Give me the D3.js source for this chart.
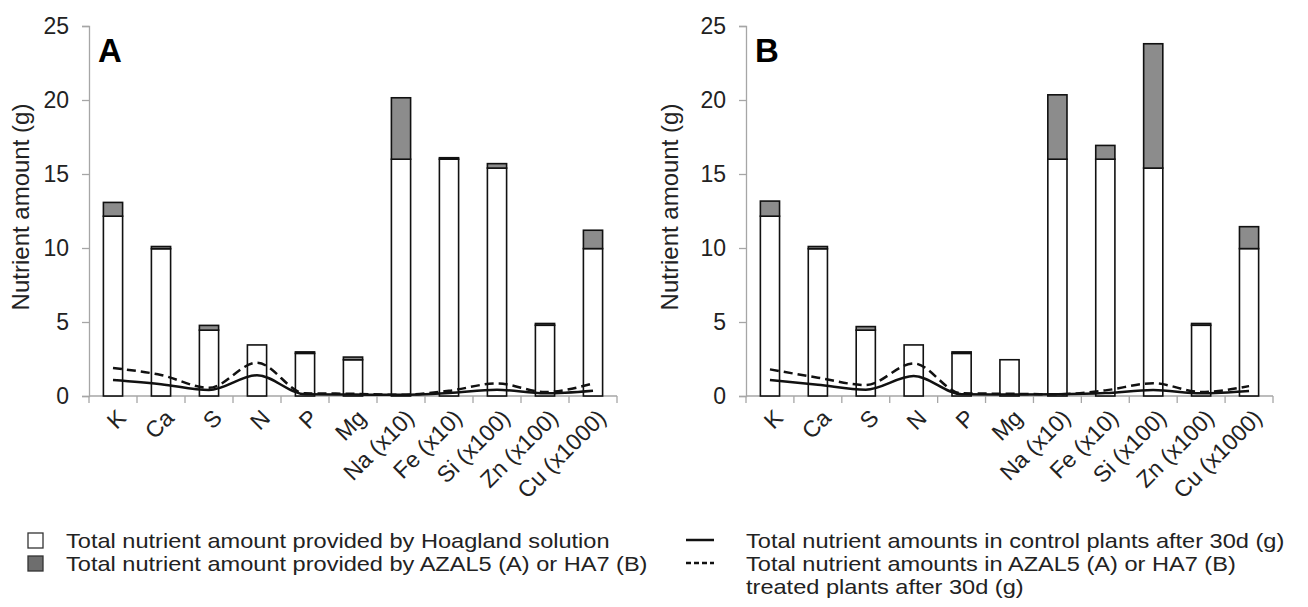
<!DOCTYPE html>
<html>
<head>
<meta charset="utf-8">
<script src="https://cdn.jsdelivr.net/npm/d3@7"></script>
<style>
  body { margin: 0; background: #fff; }
  svg text { font-family: "Liberation Sans", Arial, sans-serif; }
</style>
</head>
<body>
<div id="chart"></div>
<script>
// nutrient categories (x axis)
let categories = ["K", "Ca", "S", "N", "P", "Mg", "Na (x10)", "Fe (x10)", "Si (x100)", "Zn (x100)", "Cu (x1000)"];

// white part: provided by Hoagland solution (same in both panels)
let hoaglandA = [12.15, 9.95, 4.45, 3.45, 2.88, 2.45, 16.0, 16.0, 15.4, 4.78, 9.96];
let hoaglandB = [12.15, 9.95, 4.45, 3.45, 2.88, 2.45, 16.0, 16.0, 15.4, 4.78, 9.96];

// grey part: provided by AZAL5 (A) or HA7 (B)
let extraA = [0.93, 0.15, 0.32, 0.0, 0.1, 0.18, 4.15, 0.1, 0.3, 0.12, 1.24];
let extraB = [1.02, 0.15, 0.24, 0.0, 0.1, 0.0, 4.35, 0.93, 8.4, 0.12, 1.48];

// lines: control plants (solid) and treated plants (dashed)
let controlA = [1.08, 0.8, 0.4, 1.4, 0.12, 0.1, 0.08, 0.2, 0.42, 0.18, 0.36];
let treatedA = [1.89, 1.42, 0.55, 2.25, 0.18, 0.15, 0.08, 0.35, 0.85, 0.27, 0.85];
let controlB = [1.08, 0.76, 0.43, 1.35, 0.12, 0.1, 0.12, 0.2, 0.4, 0.18, 0.34];
let treatedB = [1.8, 1.24, 0.74, 2.2, 0.18, 0.15, 0.12, 0.38, 0.86, 0.27, 0.67];

let yTicks = [0, 5, 10, 15, 20, 25];

// legend entries
let legendBoxes = ["Total nutrient amount provided by Hoagland solution",
	"Total nutrient amount provided by AZAL5 (A) or HA7 (B)"];
let legendLines = ["Total nutrient amounts in control plants after 30d (g)",
	"Total nutrient amounts in AZAL5 (A) or HA7 (B)",
	"treated plants after 30d (g)"];

let width = 1308;
let height = 607;
let axisColor = "#a6a6a6";
let textColor = "#222";
let greyFill = "#8c8c8c";

let svg = d3.select("#chart")
	.append("svg")
	.attr("width", width)
	.attr("height", height);

function drawPanel(label, left, right, titleOffset, hoagland, extra, control, treated)
{
	let top = 26, bottom = 396;

	let x = d3.scaleBand()
		.domain(categories)
		.range([left, right])
		.paddingInner(0.6)
		.paddingOuter(0.3);

	let y = d3.scaleLinear()
		.domain([0, 25])
		.range([bottom, top]);

	let g = svg.append("g");

	// y axis
	let yAxis = g.append("g")
		.attr("transform", "translate(" + left + ",0)")
		.call(d3.axisLeft(y).tickValues(yTicks).tickSize(7).tickPadding(13));
	yAxis.select(".domain").attr("stroke", axisColor).attr("stroke-width", 1.3);
	yAxis.selectAll(".tick line").attr("stroke", axisColor).attr("stroke-width", 1.3);
	yAxis.selectAll(".tick text")
		.attr("fill", textColor)
		.style("font-size", "23px")
		.style("font-family", "'Liberation Sans', Arial, sans-serif");

	// x axis line and ticks on category boundaries
	let step = x.step();
	let bounds = categories.map(d => x(d) - (step - x.bandwidth()) / 2);
	bounds.push(right);
	g.append("line")
		.attr("x1", left).attr("x2", right)
		.attr("y1", bottom).attr("y2", bottom)
		.attr("stroke", axisColor).attr("stroke-width", 1.3);
	g.selectAll(".xtick")
		.data(bounds)
		.enter().append("line")
		.attr("x1", d => d).attr("x2", d => d)
		.attr("y1", bottom).attr("y2", bottom + 7)
		.attr("stroke", axisColor).attr("stroke-width", 1.3);

	// rotated category labels
	g.selectAll(".xlabel")
		.data(categories)
		.enter().append("text")
		.attr("transform", d => "translate(" + (x(d) + x.bandwidth() / 2 + 3) + "," + (bottom + 12) + ") rotate(-45)")
		.attr("text-anchor", "end")
		.attr("dy", "0.7em")
		.attr("fill", textColor)
		.style("font-size", "23px")
		.text(d => d);

	// y axis title
	g.append("text")
		.attr("transform", "translate(" + (left - titleOffset) + "," + ((top + bottom) / 2 - 4) + ") rotate(-90)")
		.attr("text-anchor", "middle")
		.attr("fill", textColor)
		.style("font-size", "24px")
		.text("Nutrient amount (g)");

	// panel letter
	g.append("text")
		.attr("x", left + 9)
		.attr("y", 62)
		.attr("fill", "#000")
		.style("font-size", "33px")
		.style("font-weight", "bold")
		.text(label);

	// stacked bars
	let rows = categories.map((c, i) => ({ cat: c, base: hoagland[i], extra: extra[i] }));

	g.selectAll(".barWhite")
		.data(rows)
		.enter().append("rect")
		.attr("x", d => x(d.cat))
		.attr("width", x.bandwidth())
		.attr("y", d => y(d.base))
		.attr("height", d => y(0) - y(d.base))
		.attr("fill", "#fff")
		.attr("stroke", "#111")
		.attr("stroke-width", 1.6);

	g.selectAll(".barGrey")
		.data(rows.filter(d => d.extra > 0))
		.enter().append("rect")
		.attr("x", d => x(d.cat))
		.attr("width", x.bandwidth())
		.attr("y", d => y(d.base + d.extra))
		.attr("height", d => y(d.base) - y(d.base + d.extra))
		.attr("fill", greyFill)
		.attr("stroke", "#111")
		.attr("stroke-width", 1.6);

	// lines
	let line = d3.line()
		.x((d, i) => x(categories[i]) + x.bandwidth() / 2)
		.y(d => y(d))
		.curve(d3.curveMonotoneX);

	g.append("path")
		.datum(treated)
		.attr("d", line)
		.attr("fill", "none")
		.attr("stroke", "#111")
		.attr("stroke-width", 2.5)
		.attr("stroke-dasharray", "9,5");

	g.append("path")
		.datum(control)
		.attr("d", line)
		.attr("fill", "none")
		.attr("stroke", "#111")
		.attr("stroke-width", 2.5);
}

drawPanel("A", 89, 617, 60, hoaglandA, extraA, controlA, treatedA);
drawPanel("B", 746, 1273, 68, hoaglandB, extraB, controlB, treatedB);

// legend (text slightly stretched horizontally, like the reference)
let legend = svg.append("g");
let rowY = [548, 571, 594];

function legendText(x, yPos, txt)
{
	legend.append("text")
		.attr("transform", "translate(" + x + "," + yPos + ") scale(1.15,1)")
		.attr("fill", textColor)
		.style("font-size", "20.5px")
		.text(txt);
}

legend.append("rect")
	.attr("x", 28).attr("y", 533).attr("width", 15).attr("height", 15)
	.attr("fill", "#fff").attr("stroke", "#333").attr("stroke-width", 1.3);
legend.append("rect")
	.attr("x", 28).attr("y", 556).attr("width", 15).attr("height", 15)
	.attr("fill", "#6e6e6e").attr("stroke", "#333").attr("stroke-width", 1.3);
legendBoxes.forEach((t, i) => legendText(66, rowY[i], t));

legend.append("line")
	.attr("x1", 686).attr("x2", 714).attr("y1", 540).attr("y2", 540)
	.attr("stroke", "#111").attr("stroke-width", 2.5);
legend.append("line")
	.attr("x1", 686).attr("x2", 714).attr("y1", 563).attr("y2", 563)
	.attr("stroke", "#111").attr("stroke-width", 2.5)
	.attr("stroke-dasharray", "5,3");
legendLines.forEach((t, i) => legendText(746, rowY[i], t));
</script>
</body>
</html>
